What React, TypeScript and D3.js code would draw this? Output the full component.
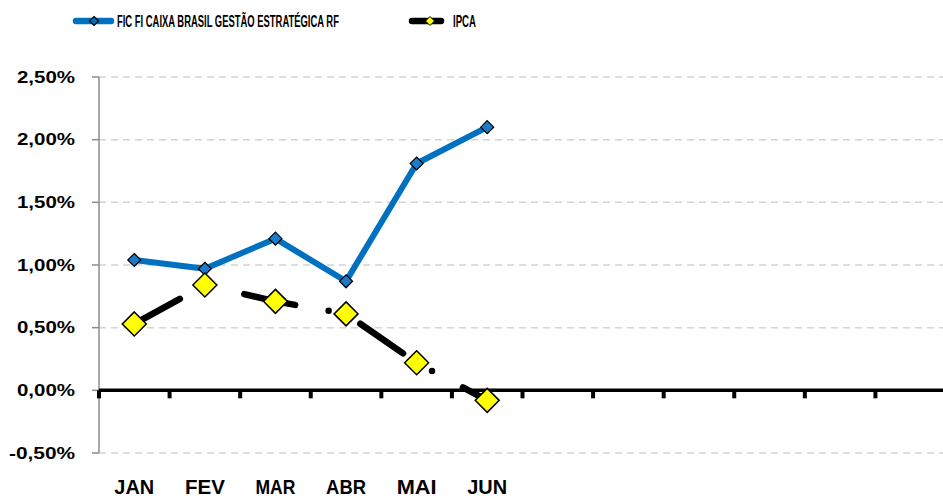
import * as d3 from 'd3'
import { useLayoutEffect, useRef, useState } from 'react'

const width = 943,
      height = 498,
      margin = { top: 77, right: -3, bottom: 45, left: 99 }

// 12 meses no eixo, só o 1º semestre tem rótulo e dados
const months = ['JAN', 'FEV', 'MAR', 'ABR', 'MAI', 'JUN', 'JUL', 'AGO', 'SET', 'OUT', 'NOV', 'DEZ']
const tickLabels = ['JAN', 'FEV', 'MAR', 'ABR', 'MAI', 'JUN', '', '', '', '', '', '']
const fundo = [1.04, 0.97, 1.21, 0.87, 1.81, 2.10]
const ipca = [0.53, 0.84, 0.71, 0.61, 0.22, -0.08]
const yTicks = [2.5, 2.0, 1.5, 1.0, 0.5, 0.0, -0.5]
const yLabels = ['2,50%', '2,00%', '1,50%', '1,00%', '0,50%', '0,00%', '-0,50%']
const seriesNames = ['FIC FI CAIXA BRASIL GESTÃO ESTRATÉGICA RF', 'IPCA']

const x = d3.scaleBand<string>()
  .domain(months)
  .range([margin.left, width - margin.right])

const y = d3.scaleLinear()
  .domain([-0.5, 2.5])
  .range([height - margin.bottom, margin.top])

const cx = (i: number) => (x(months[i]) as number) + x.bandwidth() / 2

const line = d3.line<number>()
  .x((d, i) => cx(i))
  .y(d => y(d))

const font = '"Liberation Sans", Arial, sans-serif'

const diamond = (px: number, py: number, r: number) =>
  `M${px},${py - r}L${px + r},${py}L${px},${py + r}L${px - r},${py}Z`

// texto espremido na horizontal até caber na largura w
const FitText = ({ x0, y0, w, size, children }: { x0: number, y0: number, w: number, size: number, children: string }) => {
  const ref = useRef<SVGTextElement>(null)
  const [sx, setSx] = useState(1)
  useLayoutEffect(() => {
    if (ref.current) setSx(w / ref.current.getComputedTextLength())
  }, [w, children])
  return (
    <text ref={ref} transform={`translate(${x0},${y0}) scale(${sx},1)`}
      fontFamily={font} fontWeight='bold' fontSize={size}>{children}</text>
  )
}

export default function App() {
  const blue = '#0070C0'
  return (
    <svg width={width} height={height} style={{ position: 'absolute', left: 0, top: 0, background: '#fff' }}>
      {/* legenda */}
      <line x1='76' x2='111' y1='21' y2='21' stroke={blue} strokeWidth='6.5' strokeLinecap='round' />
      <path d={diamond(94, 21, 4.5)} fill={blue} stroke='#000' strokeWidth='1.2' />
      <FitText x0={117} y0={27} w={222} size={16}>{seriesNames[0]}</FitText>
      <line x1='412' x2='441' y1='21' y2='21' stroke='#000' strokeWidth='6.5' strokeLinecap='round' />
      <path d={diamond(430, 21, 4.5)} fill='#FFFF00' stroke='#000' strokeWidth='1' />
      <FitText x0={453} y0={27} w={23} size={16}>{seriesNames[1]}</FitText>

      {/* grade */}
      {yTicks.filter(t => t !== 0).map(t =>
        <line key={t} x1={margin.left} x2={width} y1={y(t)} y2={y(t)}
          stroke='#D4D4D4' strokeWidth='1.5' strokeDasharray='7 5' />
      )}

      {/* eixo y */}
      <line x1={margin.left} x2={margin.left} y1={y(2.5)} y2={y(-0.5)} stroke='#8C8C8C' strokeWidth='1.5' />
      {yTicks.map((t, i) =>
        <g key={t}>
          <line x1={margin.left - 7} x2={margin.left} y1={y(t)} y2={y(t)} stroke='#8C8C8C' strokeWidth='1.5' />
          <text x='75' y={y(t) + 5.5} textAnchor='end' fontFamily={font} fontWeight='bold' fontSize='16'
            textLength={t < 0 ? 66 : 58} lengthAdjust='spacingAndGlyphs'>{yLabels[i]}</text>
        </g>
      )}

      {/* eixo x no zero */}
      <line x1={margin.left} x2={width} y1={y(0)} y2={y(0)} stroke='#000' strokeWidth='3.5' />
      {d3.range(months.length + 1).map(i => {
        const px = margin.left + i * x.step()
        return <line key={i} x1={px} x2={px} y1={y(0)} y2={y(0) + 8} stroke='#000' strokeWidth='4' />
      })}
      {tickLabels.map((l, i) =>
        l ? <text key={i} x={cx(i)} y='493.5' textAnchor='middle' fontFamily={font} fontWeight='bold'
          fontSize='19.5' textLength={l.length * 13.3} lengthAdjust='spacingAndGlyphs'>{l}</text> : null
      )}

      {/* séries */}
      <path d={line(fundo) as string} fill='none' stroke={blue} strokeWidth='6' strokeLinejoin='round' />
      <path d={line(ipca) as string} fill='none' stroke='#000' strokeWidth='6.5' strokeLinecap='round'
        strokeDasharray='52 34 0 35' />
      {fundo.map((d, i) =>
        <path key={'f' + i} d={diamond(cx(i), y(d), 6.5)} fill='#1C7BC4' stroke='#000' strokeWidth='1.2' />
      )}
      {ipca.map((d, i) =>
        <path key={'p' + i} d={diamond(cx(i), y(d), 12)} fill='#FFFF00' stroke='#000' strokeWidth='1.5' />
      )}
    </svg>
  )
}
